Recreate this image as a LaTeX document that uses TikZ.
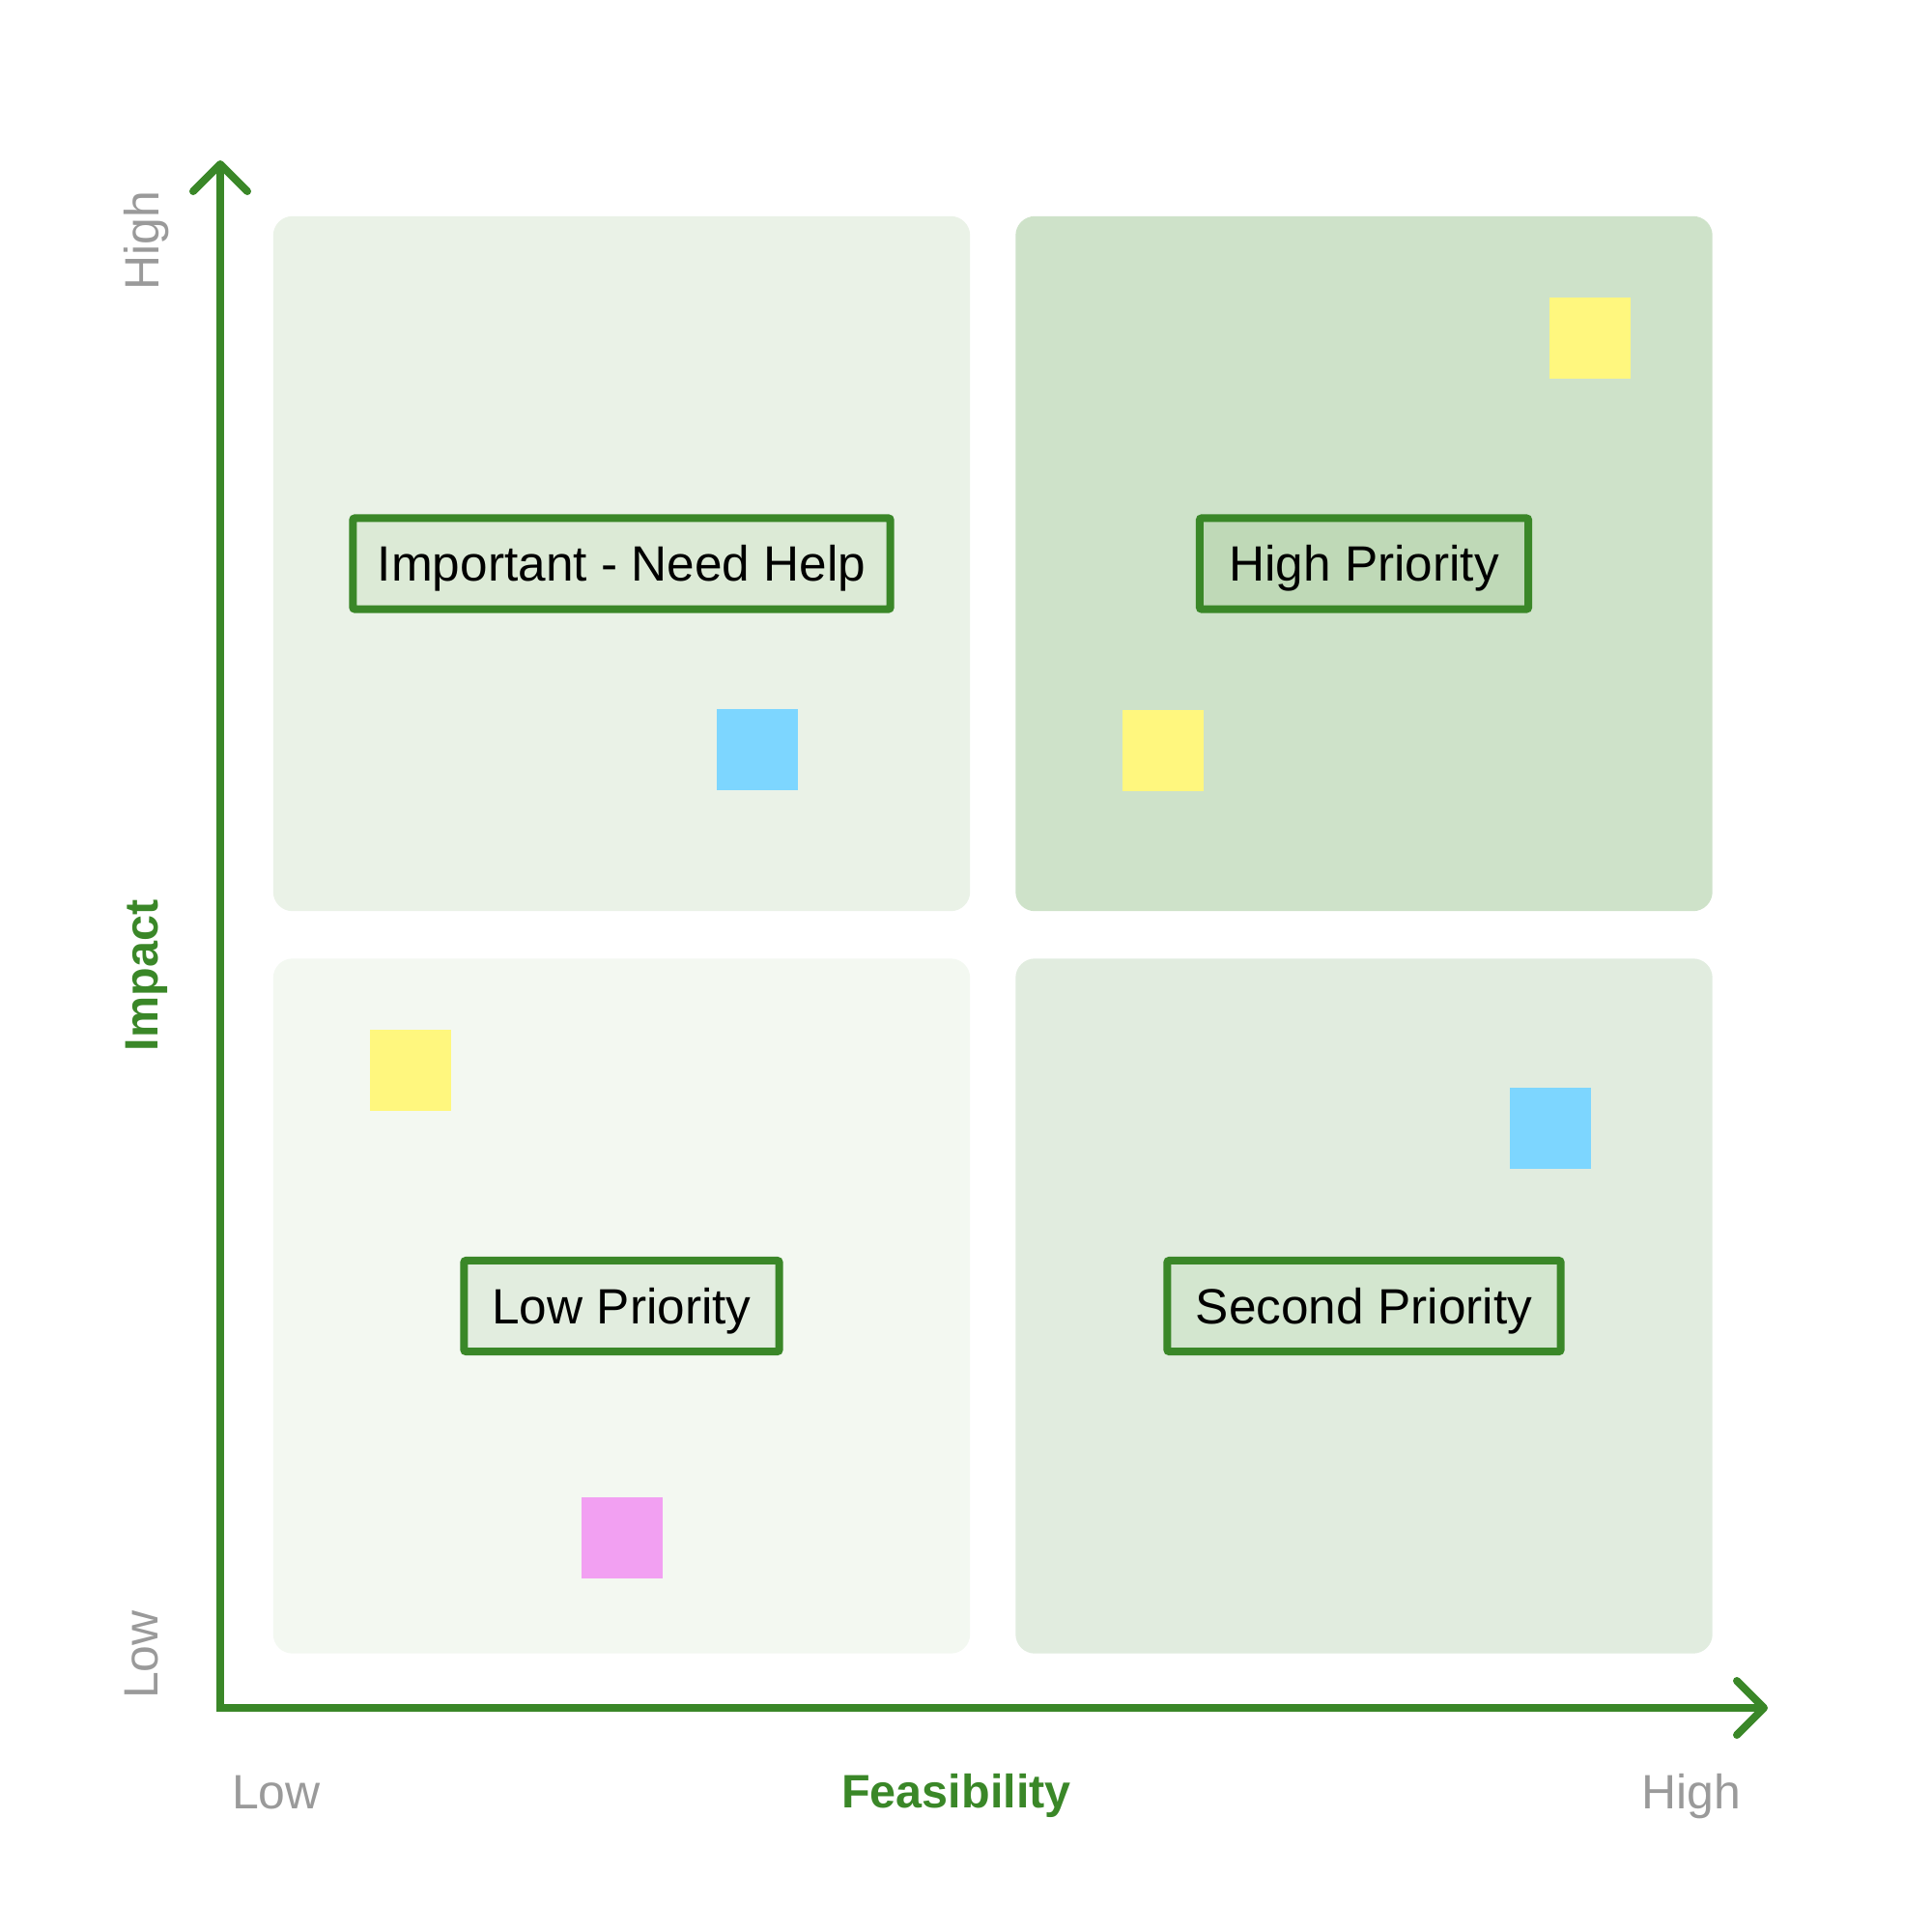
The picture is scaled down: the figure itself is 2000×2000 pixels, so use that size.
\documentclass[tikz,border=0pt]{standalone}
\usepackage{fontspec}
\setmainfont{Liberation Sans}
\usetikzlibrary{arrows.meta}

\definecolor{axisgreen}{HTML}{3A8728}
\definecolor{tickgray}{HTML}{9A9A9A}
\definecolor{quadTL}{HTML}{EAF2E7}
\definecolor{quadTR}{HTML}{CEE2C9}
\definecolor{quadBL}{HTML}{F3F8F1}
\definecolor{quadBR}{HTML}{E1ECDF}
\definecolor{tagTL}{HTML}{DCEAD6}
\definecolor{tagTR}{HTML}{BFD9B7}
\definecolor{tagBL}{HTML}{E2EDDF}
\definecolor{tagBR}{HTML}{D3E6CF}
\definecolor{noteyellow}{HTML}{FFF77E}
\definecolor{noteblue}{HTML}{7DD6FF}
\definecolor{notepink}{HTML}{F2A0F2}

\begin{document}
\begin{tikzpicture}[x=0.01cm, y=-0.01cm,
  quad/.style={rounded corners=0.2cm, minimum width=7.21cm, minimum height=7.19cm, inner sep=0pt},
  tag/.style={draw=axisgreen, line width=0.08cm, rounded corners=0.02cm, minimum height=0.94cm, inner sep=0pt,
    text height=0.36cm, text depth=0pt, font=\fontsize{14.6}{16}\selectfont},
  note/.style={minimum size=0.84cm, inner sep=0pt},
  ticklabel/.style={text=tickgray, font=\fontsize{14.2}{16}\selectfont},
  axislabel/.style={text=axisgreen, font=\fontsize{13.8}{16}\selectfont\bfseries},
  axis/.style={draw=axisgreen, line width=0.08cm, line join=miter,
    arrows={Straight Barb[length=0.28cm, width=0.56cm, round]-Straight Barb[length=0.28cm, width=0.56cm, round]}}]
  \useasboundingbox (0,0) rectangle (2000,2000);
  % four quadrants
  \foreach \q/\x/\y in {TL/643.5/583.5, TR/1412/583.5, BL/643.5/1352, BR/1412/1352}
    \node[quad, fill=quad\q] (q\q) at (\x,\y) {};
  % quadrant labels
  \node[tag, fill=tagTL, minimum width=5.56cm] (important) at (qTL) {Important - Need Help};
  \node[tag, fill=tagTR, minimum width=3.40cm] (high) at (qTR) {High Priority};
  \node[tag, fill=tagBL, minimum width=3.26cm] (low) at (qBL) {Low Priority};
  \node[tag, fill=tagBR, minimum width=4.07cm] (second) at (qBR) {Second Priority};
  % sticky notes
  \foreach \n/\c/\x/\y in {n1/noteblue/784/776, n2/noteyellow/1646/350, n3/noteyellow/1204/777,
                          n4/noteyellow/425/1108, n5/noteblue/1605/1168, n6/notepink/644/1592}
    \node[note, fill=\c] (\n) at (\x,\y) {};
  % axes
  \coordinate (ytip) at (228,166);
  \coordinate (origin) at (228,1768);
  \coordinate (xtip) at (1830,1768);
  \draw[axis] (ytip) -- (origin) -- (xtip);
  % axis labels
  \node[ticklabel, rotate=90, anchor=base] (yhigh) at (164,249) {High};
  \node[axislabel, rotate=90, anchor=base] (ytitle) at (163,1010) {Impact};
  \node[ticklabel, rotate=90, anchor=base] (ylow) at (163,1713) {Low};
  \node[ticklabel, anchor=base] (xlow) at (286,1872) {Low};
  \node[axislabel, anchor=base] (xtitle) at (990,1871) {Feasibility};
  \node[ticklabel, anchor=base] (xhigh) at (1751,1872) {High};
\end{tikzpicture}
\end{document}
